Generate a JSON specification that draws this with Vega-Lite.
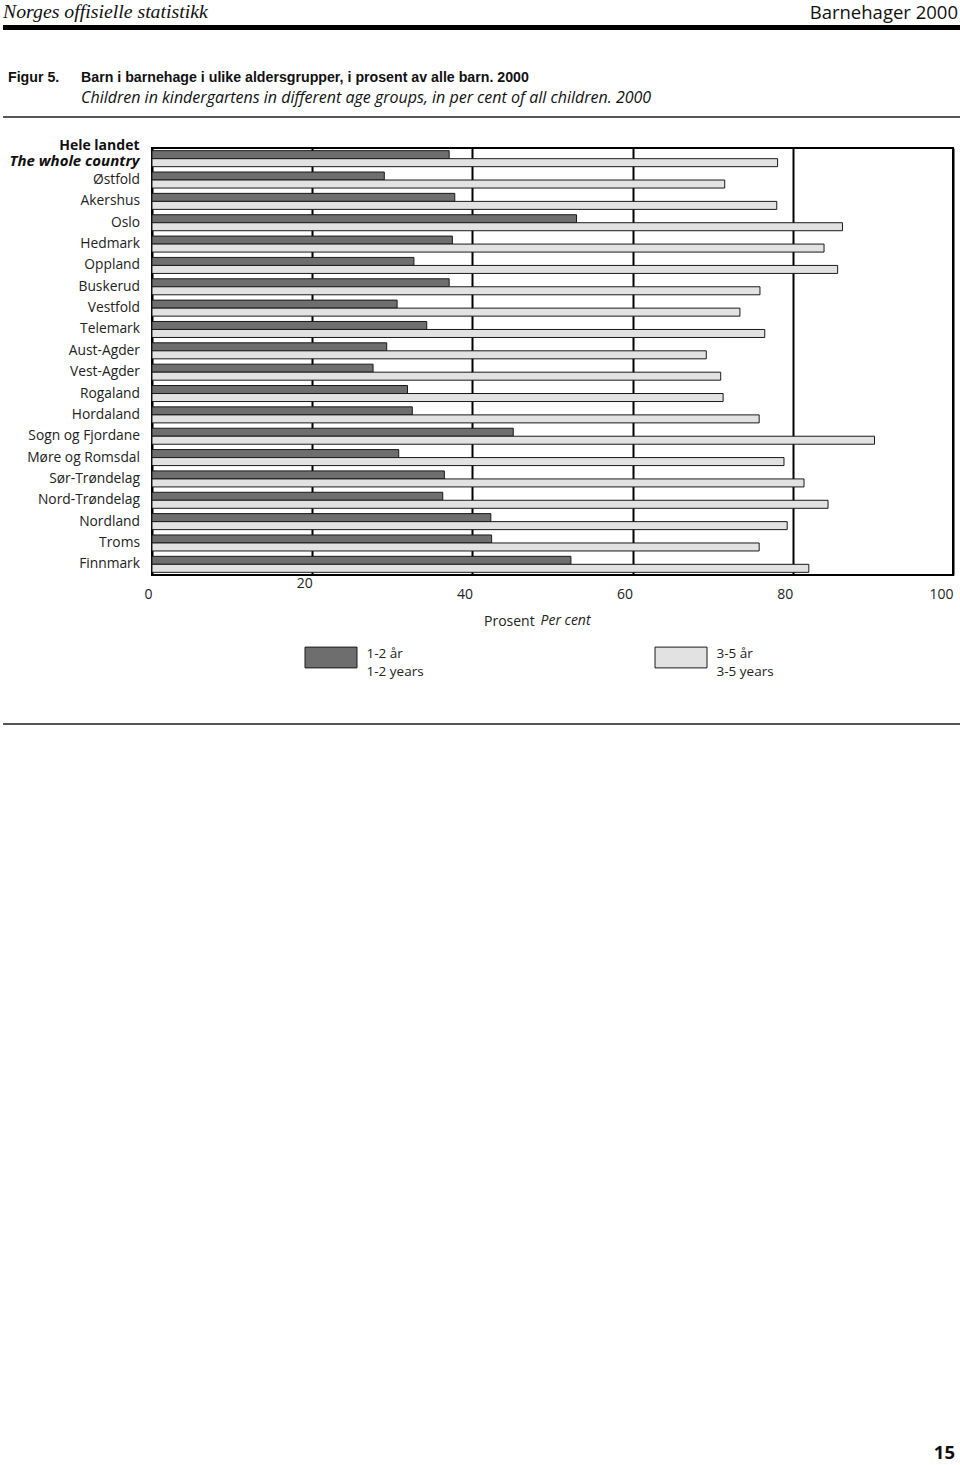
{
  "$schema": "https://vega.github.io/schema/vega-lite/v6.json",
  "padding": {"left": 3, "top": 2, "right": 0, "bottom": 0},
  "background": "white",
  "spacing": 0,
  "config": {
    "view": {"stroke": null},
    "concat": {"spacing": 0},
    "font": "Open Sans",
    "style": {"guide-label": {"lineHeight": 18}}
  },
  "vconcat": [
    {
      "spacing": 0,
      "hconcat": [
        {
          "width": 478, "height": 5,
          "view": {"fill": "black", "stroke": null},
          "data": {"values": []},
          "mark": "point",
          "encoding": {},
          "title": {"text": "Norges offisielle statistikk", "anchor": "start", "font": "Liberation Serif", "fontSize": 19.8, "fontStyle": "italic", "fontWeight": "normal", "color": "#111", "offset": 3}
        },
        {
          "width": 479, "height": 5,
          "view": {"fill": "black", "stroke": null},
          "data": {"values": []},
          "mark": "point",
          "encoding": {},
          "title": {"text": "Barnehager 2000", "anchor": "end", "dx": -2, "font": "Open Sans", "fontSize": 18.5, "fontWeight": "normal", "color": "#111", "offset": 3}
        }
      ]
    },
    {
      "width": 957, "height": 40,
      "data": {"values": []},
      "mark": "point",
      "encoding": {}
    },
    {
      "spacing": 0,
      "hconcat": [
        {
          "width": 75, "height": 2,
          "view": {"fill": "#555", "stroke": null},
          "data": {"values": []},
          "mark": "point",
          "encoding": {},
          "title": {
            "text": "Figur 5.", "subtitle": " ",
            "anchor": "start", "dx": 5,
            "font": "Liberation Sans Narrow, Liberation Sans", "fontSize": 14.2, "fontWeight": "bold", "color": "#111",
            "subtitleFont": "Open Sans", "subtitleFontSize": 16, "subtitleFontStyle": "italic", "subtitleColor": "#111", "subtitlePadding": 5,
            "offset": 10
          }
        },
        {
          "width": 882, "height": 2,
          "view": {"fill": "#555", "stroke": null},
          "data": {"values": []},
          "mark": "point",
          "encoding": {},
          "title": {
            "text": "Barn i barnehage i ulike aldersgrupper, i prosent av alle barn. 2000",
            "subtitle": "Children in kindergartens in different age groups, in per cent of all children. 2000",
            "anchor": "start", "dx": 3,
            "font": "Liberation Sans Narrow, Liberation Sans", "fontSize": 14.2, "fontWeight": "bold", "color": "#111",
            "subtitleFont": "Open Sans", "subtitleFontSize": 16, "subtitleFontStyle": "italic", "subtitleColor": "#111", "subtitlePadding": 5,
            "offset": 10
          }
        }
      ]
    },
    {
      "width": 957, "height": 19,
      "data": {"values": []},
      "mark": "point",
      "encoding": {}
    },
    {
      "spacing": 0,
      "hconcat": [
        {
          "width": 5, "height": 1,
          "data": {"values": []},
          "mark": "point",
          "encoding": {}
        },
        {
          "width": 801, "height": 427,
          "view": {"stroke": "black", "strokeWidth": 2, "fill": "white"},
          "data": {"values": [
            {"region": "Hele landet", "series": "1-2 år", "value": 37.1},
            {"region": "Hele landet", "series": "3-5 år", "value": 78.1},
            {"region": "Østfold", "series": "1-2 år", "value": 29.0},
            {"region": "Østfold", "series": "3-5 år", "value": 71.5},
            {"region": "Akershus", "series": "1-2 år", "value": 37.8},
            {"region": "Akershus", "series": "3-5 år", "value": 78.0},
            {"region": "Oslo", "series": "1-2 år", "value": 53.0},
            {"region": "Oslo", "series": "3-5 år", "value": 86.2},
            {"region": "Hedmark", "series": "1-2 år", "value": 37.5},
            {"region": "Hedmark", "series": "3-5 år", "value": 83.9},
            {"region": "Oppland", "series": "1-2 år", "value": 32.7},
            {"region": "Oppland", "series": "3-5 år", "value": 85.6},
            {"region": "Buskerud", "series": "1-2 år", "value": 37.1},
            {"region": "Buskerud", "series": "3-5 år", "value": 75.9},
            {"region": "Vestfold", "series": "1-2 år", "value": 30.6},
            {"region": "Vestfold", "series": "3-5 år", "value": 73.4},
            {"region": "Telemark", "series": "1-2 år", "value": 34.3},
            {"region": "Telemark", "series": "3-5 år", "value": 76.5},
            {"region": "Aust-Agder", "series": "1-2 år", "value": 29.3},
            {"region": "Aust-Agder", "series": "3-5 år", "value": 69.2},
            {"region": "Vest-Agder", "series": "1-2 år", "value": 27.6},
            {"region": "Vest-Agder", "series": "3-5 år", "value": 71.0},
            {"region": "Rogaland", "series": "1-2 år", "value": 31.9},
            {"region": "Rogaland", "series": "3-5 år", "value": 71.3},
            {"region": "Hordaland", "series": "1-2 år", "value": 32.5},
            {"region": "Hordaland", "series": "3-5 år", "value": 75.8},
            {"region": "Sogn og Fjordane", "series": "1-2 år", "value": 45.1},
            {"region": "Sogn og Fjordane", "series": "3-5 år", "value": 90.2},
            {"region": "Møre og Romsdal", "series": "1-2 år", "value": 30.8},
            {"region": "Møre og Romsdal", "series": "3-5 år", "value": 78.9},
            {"region": "Sør-Trøndelag", "series": "1-2 år", "value": 36.5},
            {"region": "Sør-Trøndelag", "series": "3-5 år", "value": 81.4},
            {"region": "Nord-Trøndelag", "series": "1-2 år", "value": 36.3},
            {"region": "Nord-Trøndelag", "series": "3-5 år", "value": 84.4},
            {"region": "Nordland", "series": "1-2 år", "value": 42.3},
            {"region": "Nordland", "series": "3-5 år", "value": 79.3},
            {"region": "Troms", "series": "1-2 år", "value": 42.4},
            {"region": "Troms", "series": "3-5 år", "value": 75.8},
            {"region": "Finnmark", "series": "1-2 år", "value": 52.3},
            {"region": "Finnmark", "series": "3-5 år", "value": 82.0}
          ]},
          "layer": [
            {
              "mark": {"type": "bar", "stroke": "#1a1a1a", "strokeWidth": 1},
              "encoding": {
                "y": {
                  "field": "region", "type": "nominal",
                  "sort": ["Hele landet","Østfold","Akershus","Oslo","Hedmark","Oppland","Buskerud","Vestfold","Telemark","Aust-Agder","Vest-Agder","Rogaland","Hordaland","Sogn og Fjordane","Møre og Romsdal","Sør-Trøndelag","Nord-Trøndelag","Nordland","Troms","Finnmark"],
                  "scale": {"paddingInner": 0.25, "paddingOuter": 0.125},
                  "axis": {"title": null, "domain": false, "ticks": false, "grid": false, "labelPadding": 12.5, "labelFont": "Open Sans", "labelFontSize": 13.8, "labelColor": "#222", "labelLimit": 300, "labelExpr": "datum.value == 'Hele landet' ? '' : datum.label"}
                },
                "yOffset": {"field": "series", "type": "nominal", "sort": ["1-2 år", "3-5 år"], "scale": {"paddingInner": 0, "paddingOuter": 0}},
                "x": {
                  "field": "value", "type": "quantitative",
                  "scale": {"domain": [0, 100], "nice": false},
                  "axis": {
                    "title": "Prosent", "titleX": 331.5, "titleY": 46, "titleAlign": "left", "titleBaseline": "middle", "titleFont": "Open Sans", "titleFontSize": 14, "titleFontWeight": "normal", "titleColor": "#222",
                    "values": [0, 20, 40, 60, 80, 100], "ticks": false, "domain": false, "grid": true, "gridColor": "black", "gridWidth": 2, "gridOpacity": 1,
                    "labelAlign": "right", "labelBaseline": "middle", "labelFlush": false,
                    "labelPadding": {"condition": {"test": "datum.value == 20", "value": 8}, "value": 19},
                    "labelFont": "Open Sans", "labelFontSize": 14, "labelColor": "#222"
                  }
                },
                "color": {
                  "field": "series", "type": "nominal", "sort": ["1-2 år", "3-5 år"],
                  "scale": {"range": ["#6e6e6e", "#e2e2e2"]},
                  "legend": {
                    "orient": "none", "legendX": 301.5, "legendY": 606, "direction": "horizontal", "title": null, "padding": 0,
                    "symbolType": "M-1,-0.4H1V0.4H-1Z", "symbolSize": 2704, "symbolStrokeColor": "#1a1a1a", "symbolStrokeWidth": 1, "symbolOpacity": 1,
                    "labelOffset": 9, "columnPadding": 228, "labelFont": "Open Sans", "labelFontSize": 13.5, "labelColor": "#222", "labelBaseline": "alphabetic",
                    "labelExpr": "[datum.label, replace(datum.label, 'år', 'years')]"
                  }
                }
              }
            },
            {
              "transform": [{"filter": "datum.region == 'Hele landet' && datum.series == '1-2 år'"}],
              "mark": {"type": "text", "text": "Hele landet", "align": "right", "baseline": "middle", "dx": -12.5, "dy": -13, "font": "Open Sans", "fontSize": 14, "fontWeight": "bold", "color": "#111"},
              "encoding": {
                "y": {"field": "region", "type": "nominal", "sort": ["Hele landet","Østfold","Akershus","Oslo","Hedmark","Oppland","Buskerud","Vestfold","Telemark","Aust-Agder","Vest-Agder","Rogaland","Hordaland","Sogn og Fjordane","Møre og Romsdal","Sør-Trøndelag","Nord-Trøndelag","Nordland","Troms","Finnmark"]},
                "x": {"datum": 0, "type": "quantitative"}
              }
            },
            {
              "transform": [{"filter": "datum.region == 'Hele landet' && datum.series == '1-2 år'"}],
              "mark": {"type": "text", "text": "The whole country", "align": "right", "baseline": "middle", "dx": -12.5, "dy": 2.5, "font": "Open Sans", "fontSize": 15, "fontWeight": "bold", "fontStyle": "italic", "color": "#111"},
              "encoding": {
                "y": {"field": "region", "type": "nominal", "sort": ["Hele landet","Østfold","Akershus","Oslo","Hedmark","Oppland","Buskerud","Vestfold","Telemark","Aust-Agder","Vest-Agder","Rogaland","Hordaland","Sogn og Fjordane","Møre og Romsdal","Sør-Trøndelag","Nord-Trøndelag","Nordland","Troms","Finnmark"]},
                "x": {"datum": 0, "type": "quantitative"}
              }
            },
            {
              "transform": [{"filter": "datum.region == 'Finnmark' && datum.series == '1-2 år'"}],
              "mark": {"type": "text", "text": "Per cent", "align": "left", "baseline": "middle", "dy": 56.5, "font": "Open Sans", "fontSize": 14, "fontStyle": "italic", "color": "#222"},
              "encoding": {
                "y": {"field": "region", "type": "nominal", "sort": ["Hele landet","Østfold","Akershus","Oslo","Hedmark","Oppland","Buskerud","Vestfold","Telemark","Aust-Agder","Vest-Agder","Rogaland","Hordaland","Sogn og Fjordane","Møre og Romsdal","Sør-Trøndelag","Nord-Trøndelag","Nordland","Troms","Finnmark"]},
                "x": {"datum": 48.5, "type": "quantitative"}
              }
            }
          ]
        }
      ]
    },
    {
      "width": 957, "height": 94,
      "data": {"values": []},
      "mark": "point",
      "encoding": {}
    },
    {
      "width": 957, "height": 2,
      "view": {"fill": "#555", "stroke": null},
      "data": {"values": []},
      "mark": "point",
      "encoding": {},
      "title": {"text": "15", "orient": "bottom", "anchor": "end", "dx": -5, "offset": 719, "font": "Open Sans", "fontSize": 18.5, "fontWeight": "bold", "color": "#111"}
    }
  ]
}
